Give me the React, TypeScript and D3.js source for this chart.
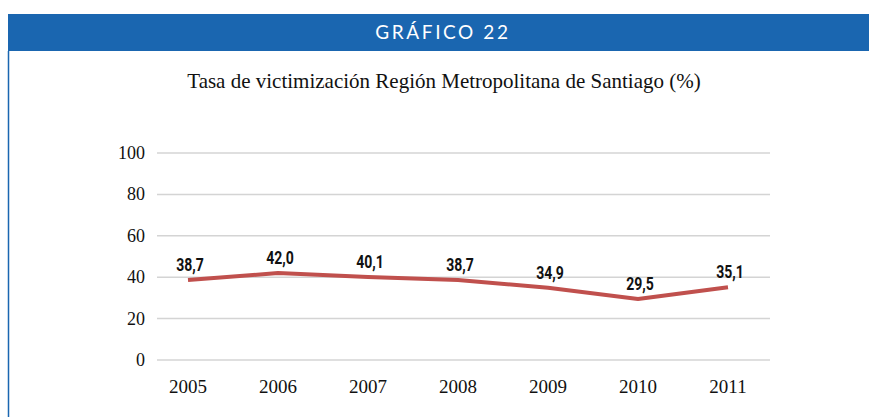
import React, { useEffect, useRef } from 'react';
import * as d3 from 'd3';

// data
const years = ['2005', '2006', '2007', '2008', '2009', '2010', '2011'];
const rates = [38.7, 42.0, 40.1, 38.7, 34.9, 29.5, 35.1];
const yTicks = [0, 20, 40, 60, 80, 100];

const WIDTH = 869;
const HEIGHT = 417;

const BLUE = '#1a66b0';
const RED = '#c0504d';
const SERIF = '"Liberation Serif", "DejaVu Serif", serif';

export default function App() {
  const node = useRef<SVGSVGElement>(null);

  useEffect(() => {
    const svg = d3.select(node.current);
    svg.selectAll('*').remove();

    const plot = { left: 157, right: 770, top: 153, bottom: 360 };

    // header band + frame
    svg.append('rect')
      .attr('x', 8).attr('y', 14)
      .attr('width', WIDTH - 8).attr('height', 37)
      .attr('fill', BLUE);

    svg.append('line')
      .attr('x1', 8.5).attr('x2', 8.5)
      .attr('y1', 51).attr('y2', HEIGHT)
      .attr('stroke', BLUE)
      .attr('stroke-width', 1.5);

    svg.append('text')
      .attr('x', 443).attr('y', 38.5)
      .attr('text-anchor', 'middle')
      .attr('fill', '#fff')
      .attr('font-family', 'Lato, "Open Sans", sans-serif')
      .attr('font-size', 19)
      .attr('letter-spacing', 2.6)
      .text('GRÁFICO 22');

    svg.append('text')
      .attr('x', 444).attr('y', 88)
      .attr('text-anchor', 'middle')
      .attr('fill', '#111')
      .attr('font-family', SERIF)
      .attr('font-size', 21)
      .text('Tasa de victimización Región Metropolitana de Santiago (%)');

    // scales
    const xScale = d3.scalePoint<string>()
      .domain(years)
      .range([plot.left + 31, plot.right - 42]);

    const yScale = d3.scaleLinear()
      .domain([0, 100])
      .range([plot.bottom, plot.top]);

    // grid
    const grid = svg.append('g');
    grid.selectAll('line')
      .data(yTicks)
      .enter().append('line')
      .attr('x1', plot.left).attr('x2', plot.right)
      .attr('y1', d => yScale(d)).attr('y2', d => yScale(d))
      .attr('stroke', '#d4d4d4')
      .attr('stroke-width', 1.5);

    grid.selectAll('text')
      .data(yTicks)
      .enter().append('text')
      .attr('x', 145)
      .attr('y', d => yScale(d) + 6)
      .attr('text-anchor', 'end')
      .attr('fill', '#111')
      .attr('font-family', SERIF)
      .attr('font-size', 18)
      .text(d => d);

    // x labels
    svg.append('g').selectAll('text')
      .data(years)
      .enter().append('text')
      .attr('x', d => xScale(d)!)
      .attr('y', 393)
      .attr('text-anchor', 'middle')
      .attr('fill', '#111')
      .attr('font-family', SERIF)
      .attr('font-size', 19)
      .text(d => d);

    // line
    const line = d3.line<number>()
      .x((_, i) => xScale(years[i])!)
      .y(d => yScale(d));

    svg.append('path')
      .datum(rates)
      .attr('d', line)
      .attr('fill', 'none')
      .attr('stroke', RED)
      .attr('stroke-width', 4)
      .attr('stroke-linejoin', 'round');

    // value labels (condensed look via horizontal squeeze)
    svg.append('g').selectAll('text')
      .data(rates)
      .enter().append('text')
      .attr('transform', (d, i) =>
        `translate(${xScale(years[i])! + 2}, ${yScale(d) - 9}) scale(0.74, 1)`)
      .attr('text-anchor', 'middle')
      .attr('fill', '#111')
      .attr('font-family', 'Roboto, "DejaVu Sans", sans-serif')
      .attr('font-weight', 'bold')
      .attr('font-size', 19)
      .text(d => d.toFixed(1).replace('.', ','));
  }, []);

  return (
    <svg
      ref={node}
      width={WIDTH}
      height={HEIGHT}
      style={{ position: 'absolute', left: 0, top: 0, background: '#fff' }}
    />
  );
}
